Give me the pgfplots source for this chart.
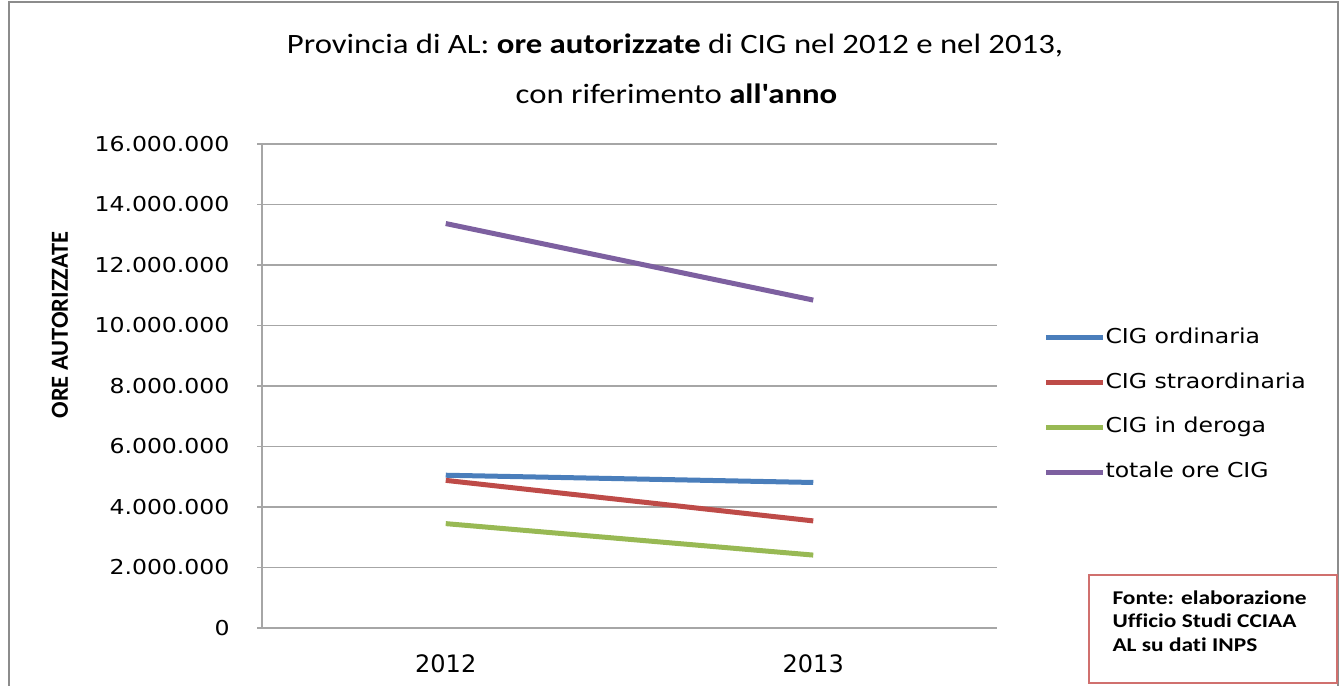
\documentclass[border=0pt]{standalone}
\usepackage{pgfplots}
\pgfplotsset{compat=1.18}
\usepackage{fontspec}
\setmainfont{Carlito}
\newfontfamily\titlefont[FakeStretch=1.17, Ligatures={TeXOff,NoCommon}]{Carlito}
\newfontfamily\tickfont[FakeStretch=1.15]{DejaVu Sans}
\newfontfamily\xfont{DejaVu Sans}
\newfontfamily\srcfont[FakeStretch=1.2, Ligatures=NoCommon]{Carlito}
\definecolor{cblue}{RGB}{74,126,187}
\definecolor{cred}{RGB}{190,75,72}
\definecolor{cgreen}{RGB}{152,185,84}
\definecolor{cpurple}{RGB}{125,96,160}
\definecolor{cgrid}{RGB}{166,166,166}
\definecolor{cborder}{RGB}{140,140,140}
\definecolor{cbox}{RGB}{208,112,110}
\begin{document}
\begin{tikzpicture}
\path[use as bounding box] (0pt,0pt) rectangle (537.2pt,274.4pt);
\draw[cborder, line width=0.8pt] (3.6pt,0pt) -- (3.6pt,273.6pt) -- (535.2pt,273.6pt) -- (535.2pt,0pt);
\begin{axis}[
  at={(104.8pt,23.2pt)}, anchor=south west,
  scale only axis, width=294pt, height=193.6pt,
  xmin=-0.5, xmax=1.5, ymin=0, ymax=16000000,
  xtick={0,1}, xticklabels={2012,2013},
  ytick={0,2000000,4000000,6000000,8000000,10000000,12000000,14000000,16000000},
  yticklabels={0,2.000.000,4.000.000,6.000.000,8.000.000,10.000.000,12.000.000,14.000.000,16.000.000},
  scaled y ticks=false,
  ymajorgrids, grid style={cgrid, line width=0.5pt},
  axis x line*=bottom, axis y line*=left,
  axis line style={cgrid, line width=0.6pt},
  x axis line style={-}, y axis line style={-},
  xtick style={draw=none},
  ytick style={cgrid, line width=0.5pt},
  tick align=outside, major tick length=2pt,
  yticklabel style={font=\tickfont\fontsize{8.2}{10}\selectfont, anchor=east, inner sep=0pt, xshift=-10.8pt},
  xticklabel style={font=\xfont\fontsize{9.6}{11}\selectfont, anchor=center, inner sep=0pt, yshift=-12.4pt},
  legend style={at={(1.0626,0.62)}, anchor=north west, draw=none, fill=none, inner sep=0pt,
    font=\tickfont\fontsize{8.2}{10}\selectfont, row sep=10.4pt,
    nodes={inner sep=0pt, text height=6pt, text depth=1.5pt}},
  legend cell align=left,
  /tikz/every even column/.append style={column sep=3.6pt},
  legend image code/.code={\draw[#1, line width=2pt] (0pt,0pt) -- (22.8pt,0pt);},
  clip=false,
]
\addplot[cblue, line width=2pt] coordinates {(0,5050000) (1,4810000)};
\addlegendentry{CIG ordinaria}
\addplot[cred, line width=2pt] coordinates {(0,4880000) (1,3540000)};
\addlegendentry{CIG straordinaria}
\addplot[cgreen, line width=2pt] coordinates {(0,3450000) (1,2410000)};
\addlegendentry{CIG in deroga}
\addplot[cpurple, line width=2pt] coordinates {(0,13370000) (1,10840000)};
\addlegendentry{totale ore CIG}
\end{axis}
\node[font=\titlefont\fontsize{11.2}{13}\selectfont, inner sep=0pt] at (270pt,256.4pt) {Provincia di AL: \textbf{ore autorizzate} di CIG nel 2012 e nel 2013,};
\node[font=\titlefont\fontsize{11.2}{13}\selectfont, inner sep=0pt] at (270.6pt,237pt) {con riferimento \textbf{all'anno}};
\node[font=\bfseries\fontsize{9.8}{12}\selectfont, rotate=90, inner sep=0pt] at (24pt,144.4pt) {ORE AUTORIZZATE};
\draw[cbox, line width=0.6pt] (435.6pt,1.2pt) rectangle (534.8pt,44.4pt);
\node[font=\srcfont\bfseries\fontsize{7.8}{9.4}\selectfont, align=left, anchor=north west, inner sep=0pt] at (444.8pt,38.4pt) {Fonte: elaborazione\\Ufficio Studi CCIAA\\AL su dati INPS};
\end{tikzpicture}
\end{document}
